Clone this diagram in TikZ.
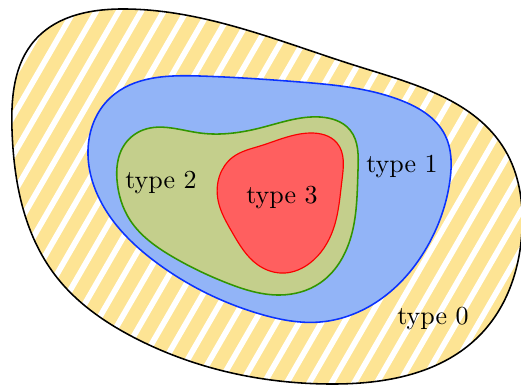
\documentclass[tikz,border=0pt]{standalone}
\usetikzlibrary{hobby}
\begin{document}
\begin{tikzpicture}[x=0.385pt,y=-0.385pt,
  region/.style={line width=0.6pt},
  lbl/.style={inner sep=0pt, font=\normalsize}]
\definecolor{zeroyellow}{RGB}{253,228,148}
\definecolor{oneblue}{RGB}{146,180,247}
\definecolor{oneblueline}{RGB}{10,50,255}
\definecolor{twogreen}{RGB}{196,207,140}
\definecolor{twogreenline}{RGB}{50,150,0}
\definecolor{threered}{RGB}{255,95,95}
\definecolor{threeredline}{RGB}{250,0,0}
\useasboundingbox (0,0) rectangle (521,385);

% type 0: hatched outer region
\def\outerpath{plot[closed hobby] coordinates {
  (127,9) (360,67) (505,150) (522,230) (480,335) (330,384)
  (133,337) (55,275) (12,130) (35,40)}}
\fill[zeroyellow] \outerpath;
\begin{scope}
  \clip \outerpath;
  \foreach \i in {-12,...,24}
    \draw[white, line width=2.2pt] (6.8+\i*22.5,400) -- ++(242.5,-420);
\end{scope}
\draw[black, region] \outerpath;

% type 1
\filldraw[region, draw=oneblueline, fill=oneblue]
  plot[closed hobby] coordinates {
  (110,98) (200,76) (300,82) (400,100) (445,135) (450,180) (427,247)
  (375,303) (320,322) (260,314) (157,263) (100,200) (88,150)};

% type 2
\filldraw[region, draw=twogreenline, fill=twogreen]
  plot[closed hobby] coordinates {
  (143,130) (200,133) (260,128) (320,117) (350,130) (358,170) (350,240)
  (320,283) (280,295) (227,283) (173,257) (130,220) (117,180) (123,147)};

% type 3
\filldraw[line width=0.45pt, draw=threeredline, fill=threered]
  plot[closed hobby] coordinates {
  (233,157) (260,146) (310,133) (337,143) (342,180) (333,230) (310,263)
  (285,273) (258,265) (232,232) (218,200)};

\node[lbl] (t0) at (433,319) {type 0};
\node[lbl] (t1) at (402,167) {type 1};
\node[lbl] (t2) at (161,183) {type 2};
\node[lbl] (t3) at (282,198) {type 3};
\end{tikzpicture}
\end{document}
